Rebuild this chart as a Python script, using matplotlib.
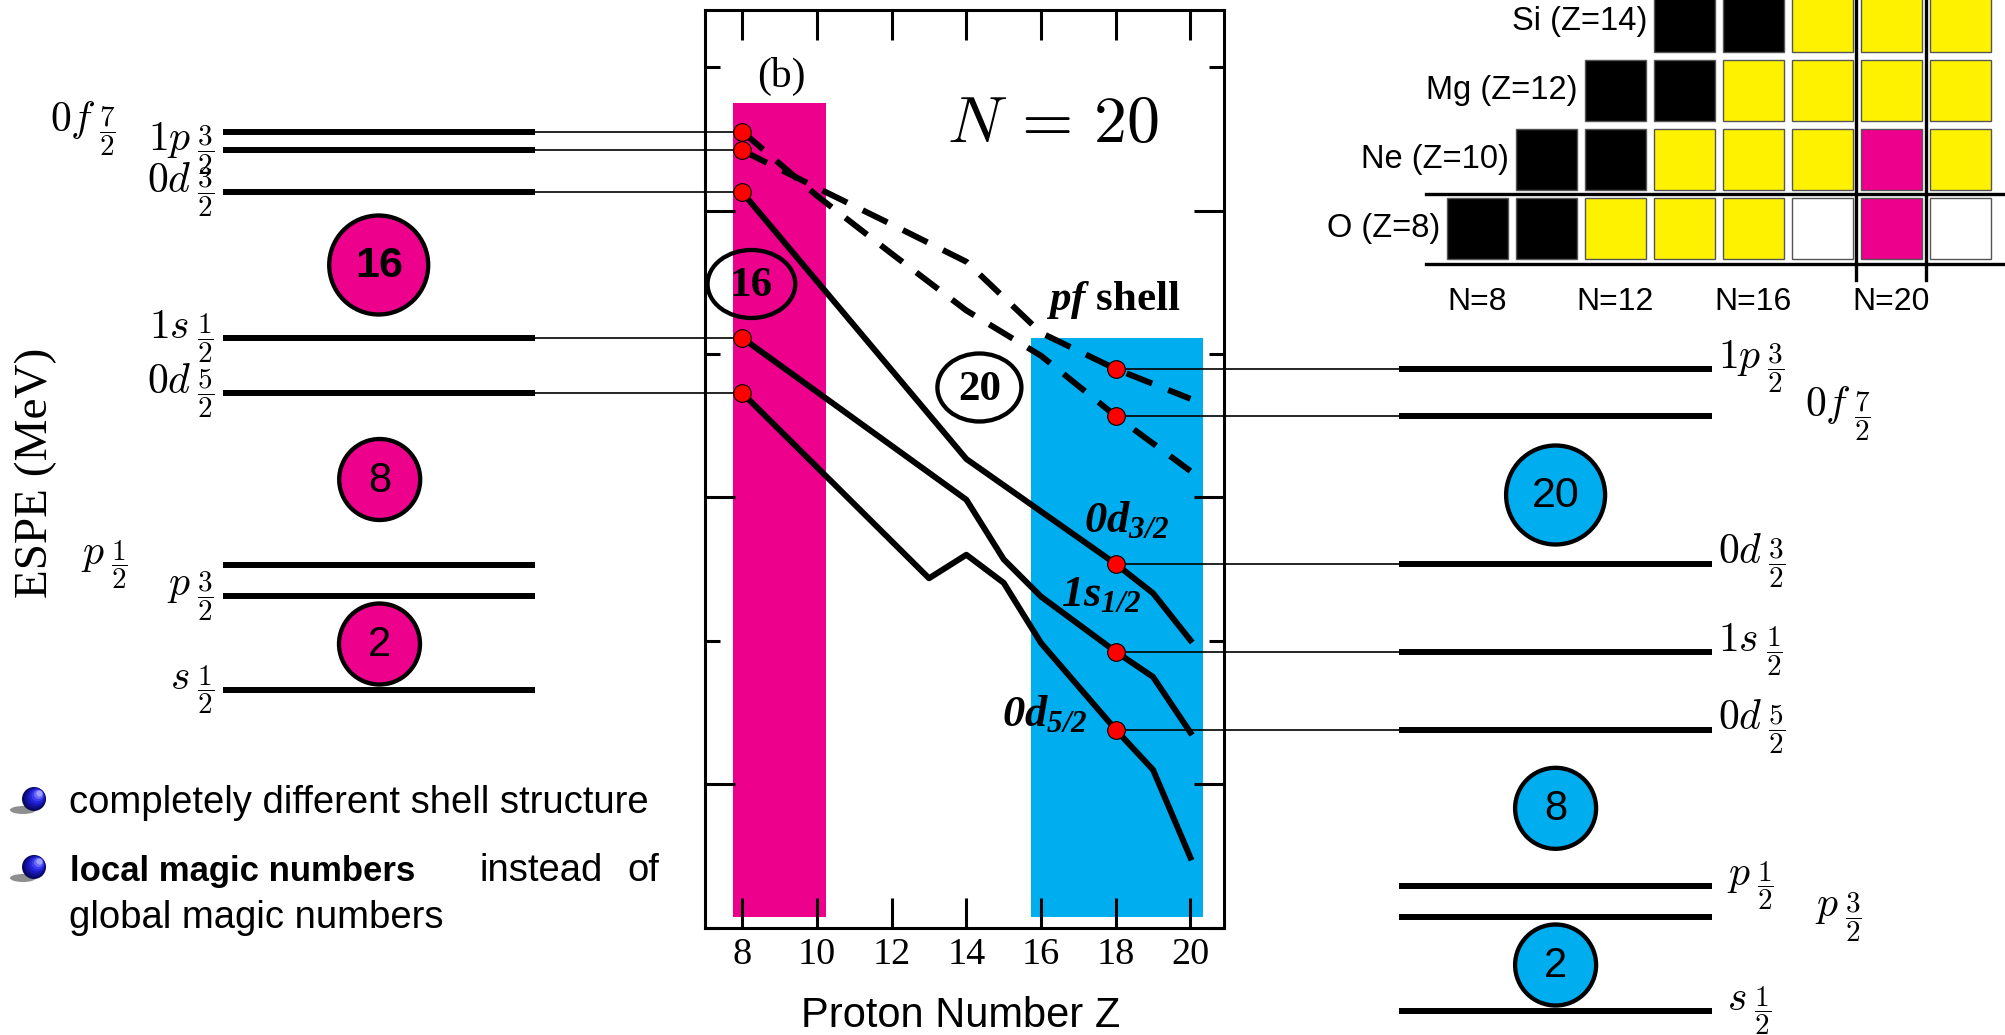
import matplotlib
matplotlib.use("Agg")
import matplotlib.pyplot as plt
import matplotlib.transforms as mtransforms
from matplotlib.patches import Ellipse, Rectangle, Circle

plt.rcParams['mathtext.fontset'] = 'cm'
# the "custom" math font is only used for the bold italic orbital tags in the ESPE panel
plt.rcParams['mathtext.rm'] = 'Liberation Serif:italic:bold'
plt.rcParams['mathtext.it'] = 'Liberation Serif:italic:bold'
plt.rcParams['mathtext.bf'] = 'Liberation Serif:bold'

# ---- ESPE (MeV) vs proton number Z, N = 20 isotones ----
Z_pf = [8, 10, 12, 14, 16, 18, 20]
espe_0f72 = [-3.62, -4.74, -5.75, -6.74, -7.53, -8.58, -9.54]
espe_1p32 = [-3.95, -4.60, -5.24, -5.89, -7.13, -7.76, -8.28]
Z_0d32 = [8, 14, 18, 19, 20]
espe_0d32 = [-4.68, -9.33, -11.16, -11.67, -12.49]
Z_1s12 = [8, 14, 15, 16, 18, 19, 20]
espe_1s12 = [-7.22, -10.04, -11.08, -11.73, -12.69, -13.13, -14.10]
Z_0d52 = [8, 13, 14, 15, 16, 18, 19, 20]
espe_0d52 = [-8.18, -11.41, -11.00, -11.49, -12.54, -14.05, -14.75, -16.28]

orbital_tex = [r'0f\,{}_{\dfrac{7}{2}}', r'1p\,{}_{\dfrac{3}{2}}', r'0d\,{}_{\dfrac{3}{2}}',
               r'1s\,{}_{\dfrac{1}{2}}', r'0d\,{}_{\dfrac{5}{2}}']
core_tex = [r'p\,{}_{\dfrac{1}{2}}', r'p\,{}_{\dfrac{3}{2}}', r's\,{}_{\dfrac{1}{2}}']
left_core_E = [-11.18, -11.72, -13.36]
right_core_E = [-16.78, -17.32, -18.96]
Z_left, Z_right = 8, 18

left_magic = ['16', '8', '2']
right_magic = ['20', '8', '2']

# shaded Z windows (O side / Ar side) and their ESPE extent
band_O = (7.74, 10.25, -17.32, -3.12)
band_Ar = (15.72, 20.35, -17.32, -7.22)

# ---- nuclear chart inset ----
chart_rows = ['O (Z=8)', 'Ne (Z=10)', 'Mg (Z=12)', 'Si (Z=14)']
chart_first_N = [8, 10, 12, 14]
chart_cells = [
    ['k', 'k', 'y', 'y', 'y', 'w', 'm', 'w'],
    ['k', 'k', 'y', 'y', 'y', 'm', 'y'],
    ['k', 'k', 'y', 'y', 'y', 'y'],
    ['k', 'k', 'y', 'y', 'y'],
]
chart_N_labels = [8, 12, 16, 20]

PINK = '#EC008C'
CYAN = '#00AEEF'
cell_colors = {'k': 'black', 'y': '#FFF200', 'm': PINK, 'w': 'white'}

fig = plt.figure(figsize=(20.06, 10.35), dpi=100)
fig.patch.set_facecolor('white')

ax = fig.add_axes([705 / 2006, 1 - 927.5 / 1035, 519 / 2006, 917.5 / 1035], zorder=1)
ov = fig.add_axes([0, 0, 1, 1], zorder=3)   # pixel overlay for the level schemes
ov.set_xlim(0, 2006)
ov.set_ylim(1035, 0)
ov.set_autoscale_on(False)
ov.axis('off')

ax.set_xlim(7.0, 20.9)
ax.set_ylim(-17.48, -1.50)
for (z0, z1, e0, e1), col in [(band_O, PINK), (band_Ar, CYAN)]:
    ax.add_patch(Rectangle((z0, e0), z1 - z0, e1 - e0, fc=col, ec='none', zorder=0))

lw_curve = 4.3
dash = (0, (4.6, 2.9))
ax.plot(Z_pf, espe_0f72, color='k', lw=lw_curve, ls=dash, zorder=2)
ax.plot(Z_pf, espe_1p32, color='k', lw=lw_curve, ls=dash, zorder=2)
ax.plot(Z_0d32, espe_0d32, color='k', lw=lw_curve, zorder=2)
ax.plot(Z_1s12, espe_1s12, color='k', lw=lw_curve, zorder=2)
ax.plot(Z_0d52, espe_0d52, color='k', lw=lw_curve, zorder=2)

curves = [(Z_pf, espe_0f72), (Z_pf, espe_1p32), (Z_0d32, espe_0d32),
          (Z_1s12, espe_1s12), (Z_0d52, espe_0d52)]
left_E = [e[z.index(Z_left)] for z, e in curves]
right_E = [e[z.index(Z_right)] for z, e in curves]


def px_to_z(px):
    disp = ov.transData.transform((px, 0))
    return ax.transData.inverted().transform(disp)[0]


# thin connectors from the dots to the level schemes
for E in left_E:
    ax.plot([px_to_z(535.5), Z_left], [E, E], color='k', lw=1.2, clip_on=False, zorder=4)
for E in right_E:
    ax.plot([Z_right, px_to_z(1399)], [E, E], color='k', lw=1.2, clip_on=False, zorder=4)
ax.plot([Z_left] * 5, left_E, 'o', ms=12.7, mfc='#FF0000', mec='k', mew=0.8,
        clip_on=False, zorder=5)
ax.plot([Z_right] * 5, right_E, 'o', ms=12.7, mfc='#FF0000', mec='k', mew=0.8,
        clip_on=False, zorder=5)

ax.set_xticks([8, 10, 12, 14, 16, 18, 20])
ax.set_yticks([-15, -10, -5])
ax.set_yticks([-17.5, -12.5, -7.5, -2.5], minor=True)
ax.tick_params(which='both', direction='in', top=True, right=True, width=2.2,
               labelleft=False, labelsize=27.5, pad=7)
ax.tick_params(which='major', length=21.6)
ax.tick_params(which='minor', length=10.8)
for lab in ax.get_xticklabels():
    lab.set_fontfamily('Liberation Serif')
for sp in ax.spines.values():
    sp.set_linewidth(2.2)

# ---- text inside the ESPE panel ----
serif = 'Liberation Serif'
sans = 'Liberation Sans'
ov.text(781, 87, '(b)', fontsize=30, family=serif, ha='center', va='baseline')
ov.text(1053, 141.7, r'$N\,=\,20$', fontsize=47.5, ha='center', va='baseline',
        math_fontfamily='cm')
ov.text(1046, 310, r'$pf$ shell', fontsize=31, family=serif, fontweight='bold',
        va='baseline', math_fontfamily='custom')
ov.text(1084, 532, r'$0d_{3/2}$', fontsize=32, va='baseline', math_fontfamily='custom')
ov.text(1061, 606, r'$1s_{1/2}$', fontsize=32, va='baseline', math_fontfamily='custom')
ov.text(1002, 726, r'$0d_{5/2}$', fontsize=32, va='baseline', math_fontfamily='custom')
for (cx, cy, w, h), s in zip([(751.4, 284, 87.7, 68), (979.4, 387.5, 84, 68)], ['16', '20']):
    ov.add_patch(Ellipse((cx, cy), w, h, fill=False, ec='k', lw=3.1))
    ov.text(cx, cy + 2, s, fontsize=31, family=serif, fontweight='bold',
            ha='center', va='center')

ov.text(961, 1027, 'Proton Number Z', fontsize=30, family=sans, ha='center', va='baseline')
ov.text(36, 473, 'ESPE (MeV)', fontsize=34, family=serif, rotation=90,
        ha='center', va='center')

# ---- level schemes (x in pixels, y in ESPE) ----
trans = mtransforms.blended_transform_factory(ov.transData, ax.transData)
lw_level = 4.3
for E in left_E + left_core_E:
    ov.plot([223, 535.5], [E, E], color='k', lw=lw_level, transform=trans,
            clip_on=False, solid_capstyle='butt')
for E in right_E + right_core_E:
    ov.plot([1399, 1712], [E, E], color='k', lw=lw_level, transform=trans,
            clip_on=False, solid_capstyle='butt')

left_x = [116, 214, 214, 214, 214]
right_x = [1805, 1718, 1718, 1718, 1718]
for tex, E, xl, xr, Er in zip(orbital_tex, left_E, left_x, right_x, right_E):
    ov.text(xl, E, '$' + tex + '$', transform=trans, fontsize=30, ha='right',
            va='baseline', math_fontfamily='cm')
    ov.text(xr, Er, '$' + tex + '$', transform=trans, fontsize=30, ha='left',
            va='baseline', math_fontfamily='cm')
for tex, El, Er, xl, xr in zip(core_tex, left_core_E, right_core_E,
                               [128, 214, 214], [1727, 1815, 1727]):
    ov.text(xl, El, '$' + tex + '$', transform=trans, fontsize=30, ha='right',
            va='baseline', math_fontfamily='cm')
    ov.text(xr, Er, '$' + tex + '$', transform=trans, fontsize=30, ha='left',
            va='baseline', math_fontfamily='cm')

# magic-number circles
for (cx, cy, d), s, bold in zip([(378.7, 265, 99), (379.7, 479.5, 81), (379.5, 644, 81)],
                                left_magic, [True, False, False]):
    ov.add_patch(Ellipse((cx, cy), d, d, fc=PINK, ec='k', lw=3.1))
    ov.text(cx, cy + 1, s, fontsize=31 if d > 90 else 30, family=sans,
            fontweight='bold' if bold else 'normal', ha='center', va='center')
for (cx, cy, d), s in zip([(1555.6, 495, 99), (1555.6, 808.3, 81), (1555.6, 965, 81)],
                          right_magic):
    ov.add_patch(Ellipse((cx, cy), d, d, fc=CYAN, ec='k', lw=3.1))
    ov.text(cx, cy + 1, s, fontsize=31 if d > 90 else 30, family=sans,
            ha='center', va='center')


# ---- bullets ----
def bullet(x, y):
    ov.add_patch(Ellipse((x - 11, y + 11), 26, 8, fc='#444444', ec='none', alpha=0.6))
    shades = ['#08085e', '#10108c', '#1818b8', '#2424d8', '#3c3cee', '#6a6af8', '#a0a0ff']
    for i, c in enumerate(shades):
        r = 12 * (1 - i / 8)
        ov.add_patch(Circle((x + i * 0.9, y - i * 0.9), r, fc=c, ec='none'))


bullet(34, 799)
bullet(34, 867)
ov.text(69, 813, 'completely different shell structure', fontsize=27.5, family=sans,
        va='baseline')
ov.text(70, 881, 'local magic numbers', fontsize=25, family=sans, va='baseline',
        fontweight='bold')
ov.text(480, 881, 'instead', fontsize=27.5, family=sans, va='baseline')
ov.text(627, 881, 'of', fontsize=27.5, family=sans, va='baseline')
ov.text(69, 928, 'global magic numbers', fontsize=27.5, family=sans, va='baseline')

# ---- nuclear chart inset ----
pitch, cell = 69.0, 61.0
x0, y0 = 1447.0, 198.3
for r, (name, n0, row) in enumerate(zip(chart_rows, chart_first_N, chart_cells)):
    top = y0 - r * pitch
    first_x = x0 + (n0 - 8) / 2 * pitch
    for k, code in enumerate(row):
        ov.add_patch(Rectangle((first_x + k * pitch, top), cell, cell,
                               fc=cell_colors[code], ec='#555555', lw=1.0))
    ov.text(first_x - 7, top + cell / 2, name, fontsize=23.5, family=sans,
            ha='right', va='center')
for n in chart_N_labels:
    ov.text(x0 + (n - 8) / 2 * pitch + cell / 2, 302, f'N={n}', fontsize=23,
            family=sans, ha='center', va='center')
ov.plot([1426, 2006], [194.3, 194.3], color='k', lw=2.4)
ov.plot([1426, 2006], [263.5, 263.5], color='k', lw=2.4)
ov.plot([1856.5, 1856.5], [0, 280], color='k', lw=2.4)
ov.plot([1925.7, 1925.7], [0, 280], color='k', lw=2.4)

fig.savefig('out.png', dpi=100, facecolor='white')
